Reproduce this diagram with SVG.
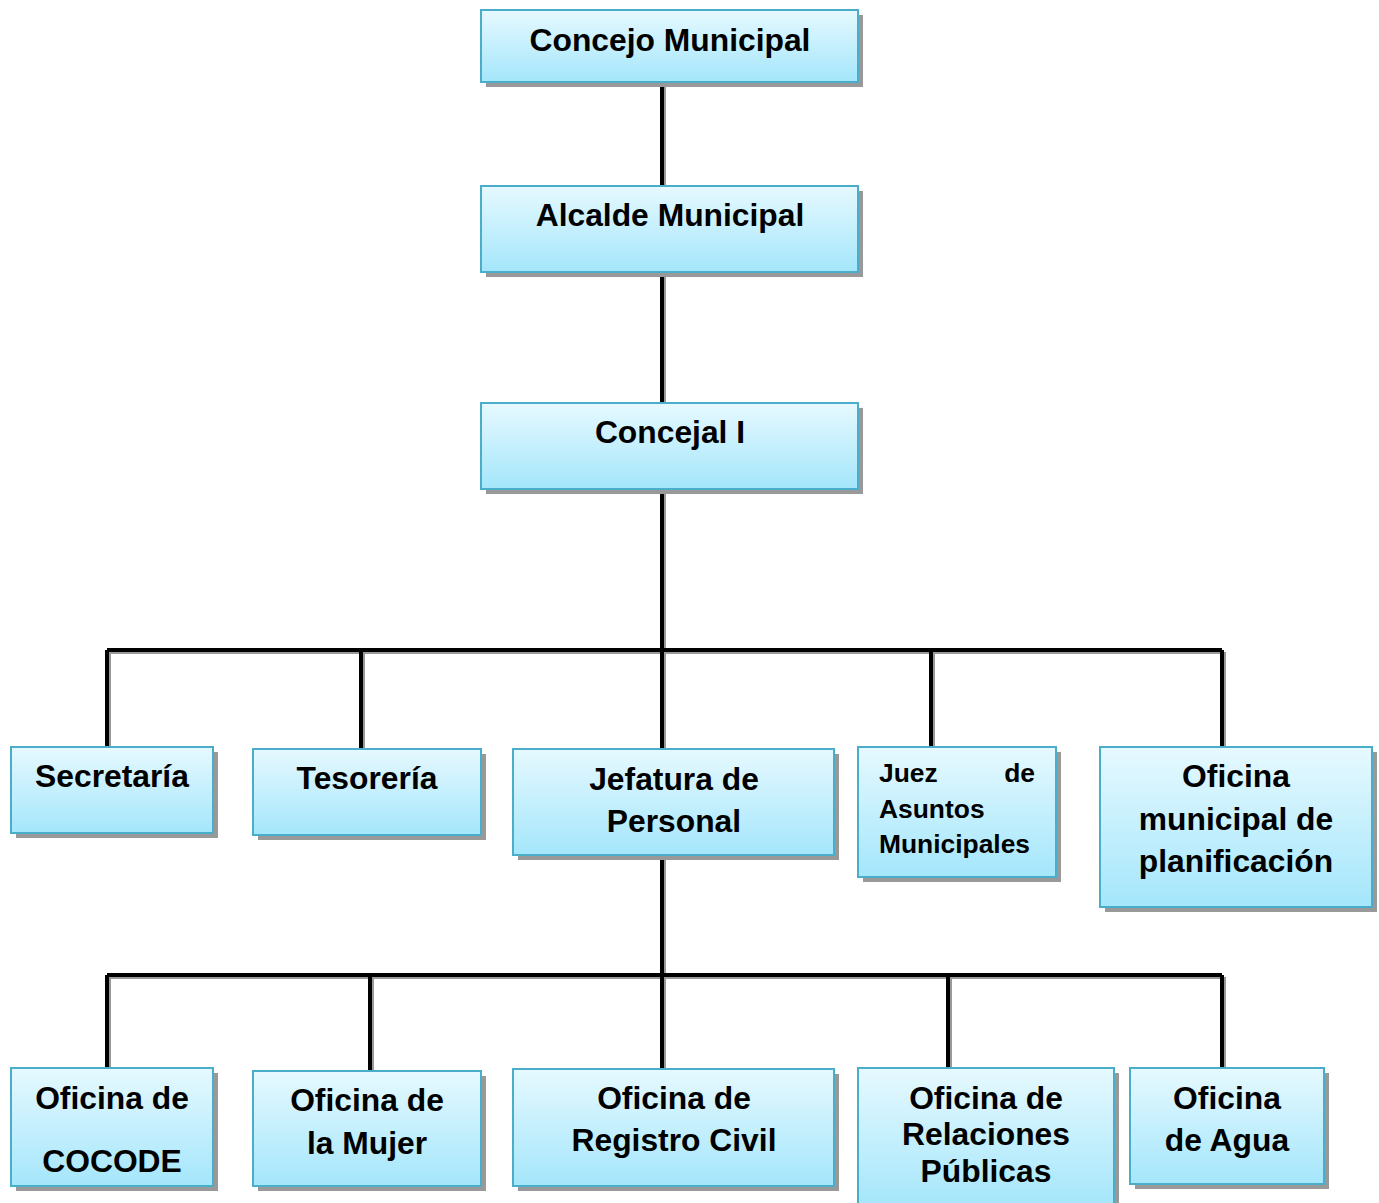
<svg xmlns="http://www.w3.org/2000/svg" width="1379" height="1203" viewBox="0 0 1379 1203">
<defs>
<linearGradient id="g" x1="0" y1="0" x2="0" y2="1">
<stop offset="0" stop-color="#e6f9ff"/>
<stop offset="1" stop-color="#a4e6fb"/>
</linearGradient>
<style>
.box{fill:url(#g);stroke:#4aaecb;stroke-width:2}
.sh{fill:#999}
.t{font-family:"Liberation Sans",Arial,sans-serif;font-weight:bold;font-size:31.8px;fill:#000;text-anchor:middle}
.ts{font-family:"Liberation Sans",Arial,sans-serif;font-weight:bold;font-size:26.4px;fill:#000}
.ln{stroke:#000;stroke-width:4;fill:none}
.lns{stroke:#999;stroke-width:4;fill:none}
</style>
</defs>
<rect width="1379" height="1203" fill="#fff"/>
<g id="connectors">
<g transform="translate(2,2)">
<path class="lns" d="M662 82V186M662 272V403M662 489V749M107 650H1222M107 650V747M361 650V749M931 650V747M1222 650V747M662 855V1069M107 975H1222M107 975V1068M370 975V1071M948 975V1068M1222 975V1068"/>
</g>
<path class="ln" d="M662 82V186M662 272V403M662 489V749M107 650H1222M107 650V747M361 650V749M931 650V747M1222 650V747M662 855V1069M107 975H1222M107 975V1068M370 975V1071M948 975V1068M1222 975V1068"/>
</g>
<g id="n1"><rect class="sh" x="486" y="15" width="377" height="72"/><rect class="box" x="481" y="10" width="377" height="72"/><text class="t" x="670" y="51">Concejo Municipal</text></g>
<g id="n2"><rect class="sh" x="486" y="191" width="377" height="86"/><rect class="box" x="481" y="186" width="377" height="86"/><text class="t" x="670" y="226">Alcalde Municipal</text></g>
<g id="n3"><rect class="sh" x="486" y="408" width="377" height="86"/><rect class="box" x="481" y="403" width="377" height="86"/><text class="t" x="670" y="443">Concejal I</text></g>
<g id="n4"><rect class="sh" x="16" y="752" width="202" height="86"/><rect class="box" x="11" y="747" width="202" height="86"/><text class="t" x="112" y="787">Secretaría</text></g>
<g id="n5"><rect class="sh" x="258" y="754" width="228" height="86"/><rect class="box" x="253" y="749" width="228" height="86"/><text class="t" x="367" y="789">Tesorería</text></g>
<g id="n6"><rect class="sh" x="518" y="754" width="321" height="106"/><rect class="box" x="513" y="749" width="321" height="106"/><text class="t" x="674" y="790">Jefatura de</text><text class="t" x="674" y="832">Personal</text></g>
<g id="n7"><rect class="sh" x="863" y="752" width="198" height="130"/><rect class="box" x="858" y="747" width="198" height="130"/><text class="ts" x="879" y="782">Juez</text><text class="ts" x="1035" y="782" text-anchor="end">de</text><text class="ts" x="879" y="818">Asuntos</text><text class="ts" x="879" y="853">Municipales</text></g>
<g id="n8"><rect class="sh" x="1105" y="752" width="272" height="160"/><rect class="box" x="1100" y="747" width="272" height="160"/><text class="t" x="1236" y="787">Oficina</text><text class="t" x="1236" y="830">municipal de</text><text class="t" x="1236" y="872">planificación</text></g>
<g id="n9"><rect class="sh" x="16" y="1073" width="202" height="118"/><rect class="box" x="11" y="1068" width="202" height="118"/><text class="t" x="112" y="1109">Oficina de</text><text class="t" x="112" y="1172">COCODE</text></g>
<g id="n10"><rect class="sh" x="258" y="1076" width="228" height="115"/><rect class="box" x="253" y="1071" width="228" height="115"/><text class="t" x="367" y="1111">Oficina de</text><text class="t" x="367" y="1154">la Mujer</text></g>
<g id="n11"><rect class="sh" x="518" y="1074" width="321" height="117"/><rect class="box" x="513" y="1069" width="321" height="117"/><text class="t" x="674" y="1109">Oficina de</text><text class="t" x="674" y="1151">Registro Civil</text></g>
<g id="n12"><rect class="sh" x="863" y="1073" width="256" height="135"/><rect class="box" x="858" y="1068" width="256" height="140"/><text class="t" x="986" y="1109">Oficina de</text><text class="t" x="986" y="1145">Relaciones</text><text class="t" x="986" y="1182">Públicas</text></g>
<g id="n13"><rect class="sh" x="1135" y="1073" width="194" height="116"/><rect class="box" x="1130" y="1068" width="194" height="116"/><text class="t" x="1227" y="1109">Oficina</text><text class="t" x="1227" y="1151">de Agua</text></g>
</svg>
